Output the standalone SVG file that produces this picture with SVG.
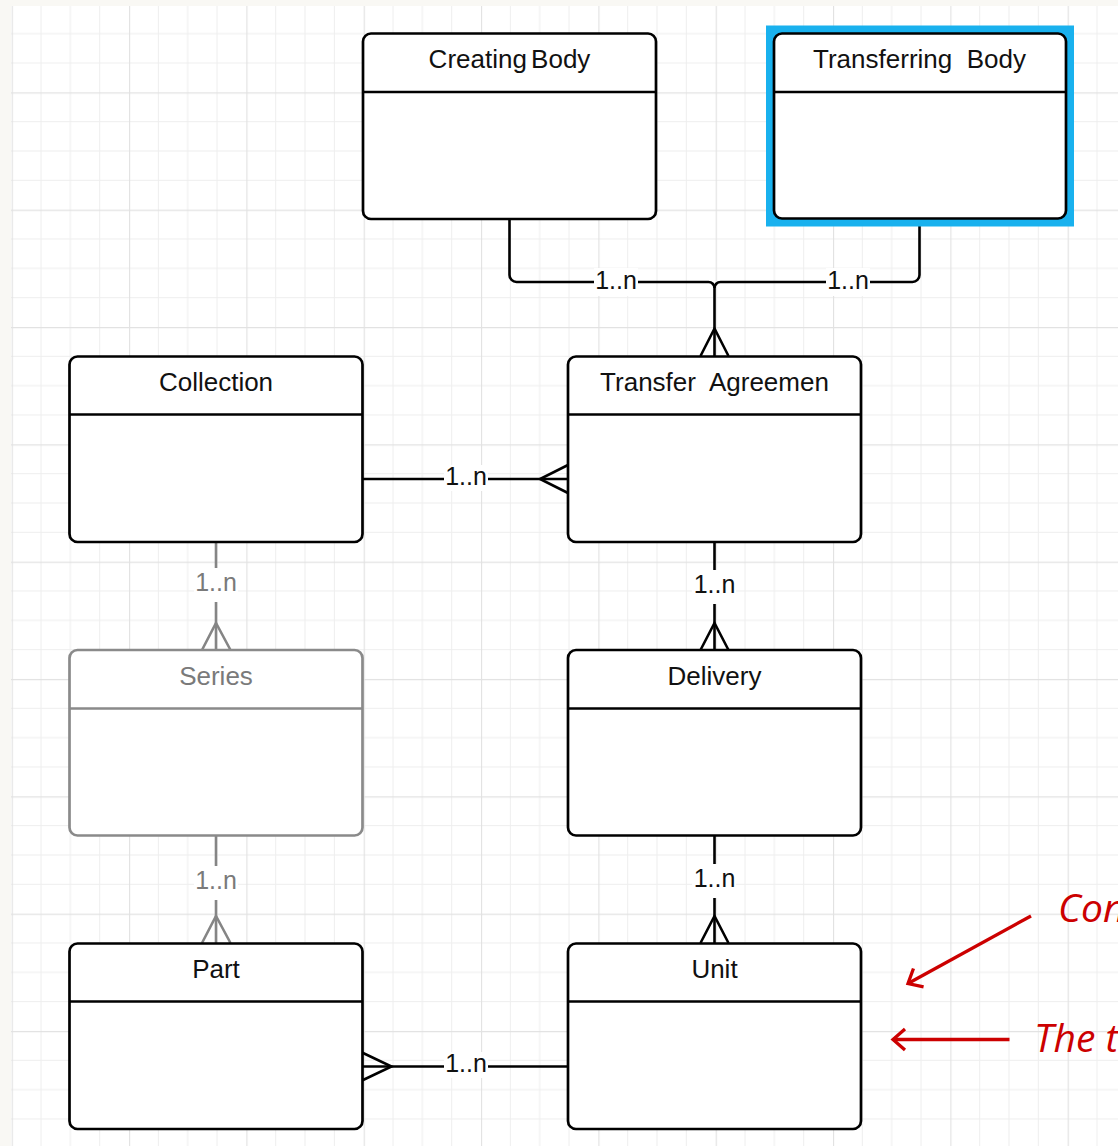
<svg xmlns="http://www.w3.org/2000/svg" width="1118" height="1146" viewBox="0 0 1118 1146">
<defs>
<pattern id="grid" patternUnits="userSpaceOnUse" x="11.7" y="-25" width="117.33" height="117.33">
<path d="M29.33 0V117.33M58.67 0V117.33M88 0V117.33M0 29.33H117.33M0 58.67H117.33M0 88H117.33" stroke="#eeeeee" stroke-width="1" fill="none"/>
<path d="M0.5 0V117.33M0 0.5H117.33" stroke="#e2e2e2" stroke-width="1.3" fill="none"/>
</pattern>
<marker id="redhead" markerUnits="userSpaceOnUse" viewBox="0 0 18 26" markerWidth="18" markerHeight="26" refX="15" refY="13" orient="auto">
<path d="M3 2.5 L15 13 L3 23.5" fill="none" stroke="#cc0000" stroke-width="3.3"/>
</marker>
<style>
.entity rect{fill:#fff;stroke:#000;stroke-width:2.7}
.entity line{stroke:#000;stroke-width:2.7}
.entity text{font-family:"Liberation Sans",Arial,sans-serif;font-size:26px;fill:#111;text-anchor:middle}
.entity.muted rect,.entity.muted line{stroke:#8a8a8a}
.entity.muted text{fill:#7a7a7a}
.conn{fill:none;stroke:#000;stroke-width:2.6}
.conn.muted{stroke:#858585}
.lblbg{fill:#fff}
.lbl{font-family:"Liberation Sans",Arial,sans-serif;font-size:25px;fill:#111;text-anchor:middle}
.lbl.muted{fill:#7a7a7a}
.note{font-family:"Open Sans","Noto Sans",sans-serif;font-style:italic;font-size:39px;fill:#cc0000}
.arrow{fill:none;stroke:#cc0000;stroke-width:3.3}
</style>
</defs>
<rect x="0" y="0" width="1118" height="1146" fill="#f9f8f4"/>
<rect x="11" y="6" width="1107" height="1140" fill="#ffffff"/>
<rect x="11" y="6" width="1107" height="1140" fill="url(#grid)"/>

<g id="connectors">
<path class="conn" d="M509.5 219 V275 A7 7 0 0 0 516.5 282 H708.5 A6 6 0 0 1 714.5 288 V356"/>
<path class="conn" d="M919.5 226 V275 A7 7 0 0 1 912.5 282 H720.5 A6 6 0 0 0 714.5 288"/>
<path class="conn" d="M700.5 356 L714.5 328.5 L728.5 356"/>
<rect class="lblbg" x="594" y="268" width="44" height="28"/>
<text class="lbl" x="616" y="289">1..n</text>
<rect class="lblbg" x="826" y="268" width="44" height="28"/>
<text class="lbl" x="848" y="289">1..n</text>

<path class="conn" d="M362 479 H568"/>
<path class="conn" d="M568 465 L540 479 L568 493"/>
<rect class="lblbg" x="444" y="465" width="44" height="26"/>
<text class="lbl" x="466" y="485">1..n</text>

<path class="conn muted" d="M216 542 V650"/>
<path class="conn muted" d="M202 650 L216 623 L230.5 650"/>
<rect class="lblbg" x="194" y="568" width="44" height="34"/>
<text class="lbl muted" x="216" y="591">1..n</text>

<path class="conn" d="M714.5 542 V650"/>
<path class="conn" d="M700.5 650 L714.5 623 L728.5 650"/>
<rect class="lblbg" x="692" y="570" width="44" height="34"/>
<text class="lbl" x="714.5" y="593">1..n</text>

<path class="conn muted" d="M216 835 V943"/>
<path class="conn muted" d="M202 943 L216 916 L230.5 943"/>
<rect class="lblbg" x="194" y="866" width="44" height="34"/>
<text class="lbl muted" x="216" y="889">1..n</text>

<path class="conn" d="M714.5 835 V943"/>
<path class="conn" d="M700.5 943 L714.5 916 L728.5 943"/>
<rect class="lblbg" x="692" y="864" width="44" height="34"/>
<text class="lbl" x="714.5" y="887">1..n</text>

<path class="conn" d="M362 1066.5 H568"/>
<path class="conn" d="M362 1052.5 L391.5 1066.5 L362 1080.5"/>
<rect class="lblbg" x="444" y="1052" width="44" height="26"/>
<text class="lbl" x="466" y="1072">1..n</text>
</g>

<g id="creating-body" class="entity">
<rect x="363" y="33.5" width="293" height="185.5" rx="8"/>
<line x1="363" y1="92" x2="656" y2="92"/>
<text x="509.5" y="68" word-spacing="-3">Creating Body</text>
</g>

<g id="transferring-body" class="entity">
<rect x="766" y="25.5" width="308" height="201" fill="#19b1ee" style="fill:#19b1ee;stroke:none"/>
<rect x="774" y="33.5" width="292" height="185" rx="8"/>
<line x1="774" y1="92" x2="1066" y2="92"/>
<text x="919.5" y="68" xml:space="preserve">Transferring  Body</text>
</g>

<g id="collection" class="entity">
<rect x="69.5" y="356.5" width="293" height="185.5" rx="8"/>
<line x1="69.5" y1="414.5" x2="362.5" y2="414.5"/>
<text x="216" y="391">Collection</text>
</g>

<g id="transfer-agreement" class="entity">
<rect x="568" y="356.5" width="293" height="185.5" rx="8"/>
<line x1="568" y1="414.5" x2="861" y2="414.5"/>
<text x="714.5" y="391" xml:space="preserve">Transfer  Agreemen</text>
</g>

<g id="series" class="entity muted">
<rect x="69.5" y="650" width="293" height="185.5" rx="8"/>
<line x1="69.5" y1="708.5" x2="362.5" y2="708.5"/>
<text x="216" y="685">Series</text>
</g>

<g id="delivery" class="entity">
<rect x="568" y="650" width="293" height="185.5" rx="8"/>
<line x1="568" y1="708.5" x2="861" y2="708.5"/>
<text x="714.5" y="685">Delivery</text>
</g>

<g id="part" class="entity">
<rect x="69.5" y="943.5" width="293" height="185.5" rx="8"/>
<line x1="69.5" y1="1001.5" x2="362.5" y2="1001.5"/>
<text x="216" y="978">Part</text>
</g>

<g id="unit" class="entity">
<rect x="568" y="943.5" width="293" height="185.5" rx="8"/>
<line x1="568" y1="1001.5" x2="861" y2="1001.5"/>
<text x="714.5" y="978">Unit</text>
</g>

<g id="annotations">
<line class="arrow" x1="1031" y1="916" x2="908" y2="983.5" marker-end="url(#redhead)"/>
<line class="arrow" x1="1009.5" y1="1039.5" x2="893" y2="1039.5" marker-end="url(#redhead)"/>
<text class="note" x="1058" y="922">Con</text>
<text class="note" x="1034" y="1052">The t</text>
</g>
</svg>
